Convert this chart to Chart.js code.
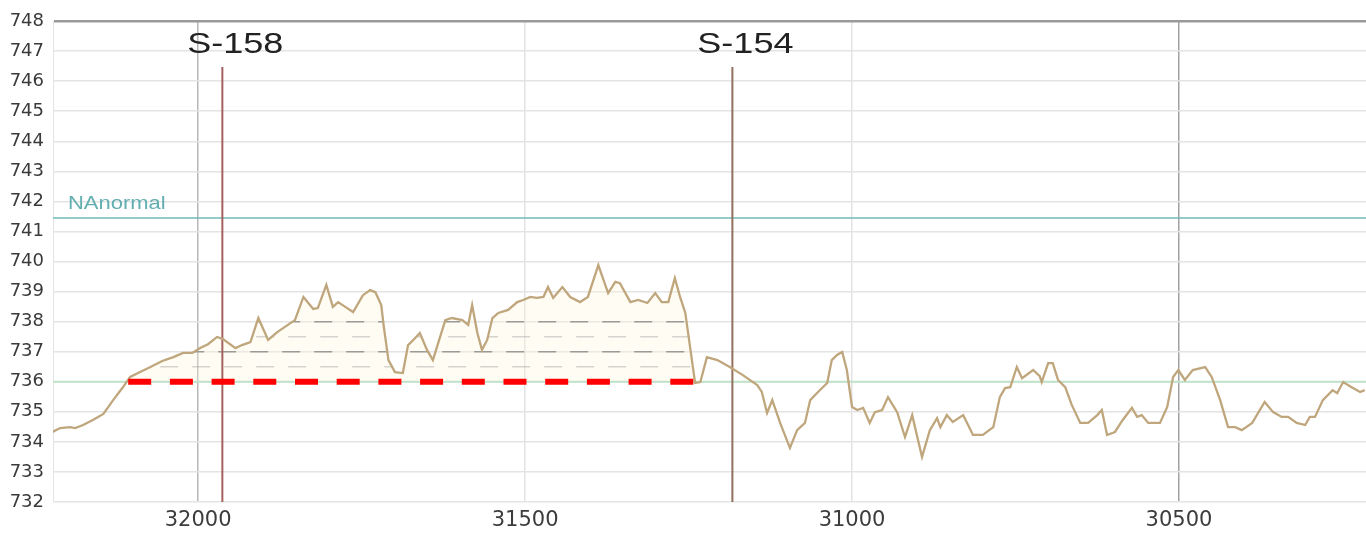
<!DOCTYPE html>
<html>
<head>
<meta charset="utf-8">
<script src="https://cdn.jsdelivr.net/npm/chart.js@4/dist/chart.umd.min.js"></script>
<style>
  html, body { margin: 0; padding: 0; background: #ffffff; }
  #wrap { width: 1366px; height: 538px; position: relative; }
</style>
</head>
<body>
<div id="wrap"><canvas id="c"></canvas></div>
<script>
// ---- data ----
const distance = [32223,32211,32196,32188,32176,32161,32145,32130,32116,32104,32092,32073,32055,32038,32023,32009,31997,31985,31971,31962,
  31943,31933,31920,31908,31893,31879,31859,31852,31839,31824,31817,31804,31794,31786,31775,31763,31748,31737,31729,31720,
  31716,31709,31699,31687,31679,31671,31661,31650,31641,31630,31622,31612,31596,31587,31581,31573,31566,31558,31550,31541,
  31526,31512,31503,31492,31482,31472,31465,31457,31443,31431,31416,31404,31388,31373,31362,31355,31339,31327,31313,31301,
  31291,31281,31271,31263,31255,31240,31232,31222,31206,31187,31167,31145,31138,31130,31122,31110,31095,31084,31072,31064,
  31052,31038,31031,31023,31015,31008,31000,30992,30983,30973,30965,30954,30945,30931,30919,30908,30893,30881,30870,30865,
  30855,30846,30830,30815,30800,30784,30774,30766,30758,30748,30740,30723,30713,30710,30700,30693,30685,30674,30664,30651,
  30639,30625,30618,30610,30598,30586,30572,30564,30557,30547,30529,30518,30509,30501,30491,30479,30460,30450,30437,30425,
  30414,30404,30388,30369,30356,30343,30333,30320,30307,30300,30292,30280,30265,30258,30249,30236,30223,30216];
const elevation = [734.33,734.46,734.49,734.46,734.56,734.73,734.93,735.39,735.79,736.16,736.29,736.49,736.69,736.82,736.96,736.96,737.12,737.25,737.49,737.42,
  737.12,737.22,737.32,738.12,737.39,737.65,737.95,738.05,738.82,738.42,738.45,739.22,738.49,738.65,738.49,738.32,738.88,739.05,738.98,738.55,
  737.82,736.72,736.32,736.29,737.22,737.39,737.62,737.06,736.72,737.49,738.05,738.12,738.05,737.89,738.55,737.62,737.06,737.39,738.12,738.29,
  738.39,738.65,738.72,738.82,738.79,738.82,739.15,738.79,739.15,738.82,738.65,738.82,739.88,738.95,739.32,739.28,738.65,738.72,738.62,738.95,
  738.65,738.65,739.45,738.82,738.29,735.96,735.99,736.82,736.72,736.49,736.22,735.89,735.66,734.96,735.39,734.63,733.80,734.39,734.63,735.39,
  735.66,735.96,736.72,736.89,736.99,736.39,735.16,735.06,735.13,734.63,734.99,735.06,735.49,734.99,734.16,734.89,733.50,734.39,734.79,734.49,
  734.89,734.66,734.89,734.23,734.23,734.49,735.49,735.79,735.82,736.49,736.12,736.39,736.19,735.99,736.62,736.62,736.06,735.82,735.23,734.63,
  734.63,734.89,735.06,734.23,734.33,734.73,735.13,734.83,734.89,734.63,734.63,735.16,736.16,736.39,736.06,736.39,736.49,736.16,735.39,734.49,
  734.49,734.39,734.63,735.33,734.99,734.83,734.83,734.63,734.56,734.83,734.83,735.39,735.72,735.62,735.99,735.82,735.66,735.72];

const xTicks = [32000, 31500, 31000, 30500];
const xMin = 30214, xMax = 32222;
const yMin = 732, yMax = 748;

const markerNames = ['S-158', 'S-154'];
const markerDist = [31963, 31183];
const markerTop = 746.47;

const normalLevel = 741.45;
const normalLabel = 'NAnormal';
const targetLevel = 736;
const targetStart = 32107, targetEnd = 31237;
const hatchLevels = [736.5, 737, 737.5, 738];

// ---- build datasets ----
const curve = distance.map((d, i) => ({ x: d, y: elevation[i] }));
const targetLine = [{ x: targetStart, y: targetLevel }, { x: targetEnd, y: targetLevel }];
const greenLine = [{ x: xMax, y: targetLevel }, { x: xMin, y: targetLevel }];
const normalLine = [{ x: xMax, y: normalLevel }, { x: xMin, y: normalLevel }];
const markerColors = ['#a4625f', '#93705e'];

const datasets = [
  { data: targetLine, borderColor: '#ff0000', borderWidth: 6, borderDash: [23, 18.7], pointRadius: 0, order: 0, borderCapStyle: 'butt' },
  { data: curve, borderColor: '#bfa67c', borderWidth: 2.3, pointRadius: 0, tension: 0, order: 1 },
  { data: normalLine, borderColor: '#6fb8b8', borderWidth: 1.5, pointRadius: 0, order: 3 },
  { data: greenLine, borderColor: '#bfe3c8', borderWidth: 2, pointRadius: 0, order: 3 }
];
markerDist.forEach((d, i) => {
  datasets.push({ data: [{ x: d, y: markerTop }, { x: d, y: yMin }], borderColor: markerColors[i], borderWidth: 2, pointRadius: 0, order: 2 });
});

// ---- plugins ----
const hatchPlugin = {
  id: 'hatch',
  beforeDatasetsDraw(chart) {
    const { ctx, chartArea, scales: { x, y } } = chart;
    ctx.save();
    ctx.beginPath();
    ctx.rect(chartArea.left, chartArea.top, chartArea.right - chartArea.left, chartArea.bottom - chartArea.top);
    ctx.clip();
    ctx.beginPath();
    ctx.moveTo(x.getPixelForValue(targetStart), y.getPixelForValue(targetLevel));
    for (let i = 0; i < distance.length; i++) {
      const d = distance[i];
      if (d <= targetStart && d >= targetEnd) {
        ctx.lineTo(x.getPixelForValue(d), y.getPixelForValue(elevation[i]));
      }
    }
    ctx.lineTo(x.getPixelForValue(targetEnd), y.getPixelForValue(targetLevel));
    ctx.closePath();
    ctx.fillStyle = 'rgba(255, 246, 215, 0.3)';
    ctx.fill();
    ctx.clip();
    hatchLevels.forEach((lv, i) => {
      const py = y.getPixelForValue(lv);
      ctx.beginPath();
      ctx.setLineDash([18, 14]);
      ctx.lineDashOffset = i % 2 ? 6 : 0;
      ctx.strokeStyle = (lv % 1 === 0) ? 'rgba(120,120,120,0.7)' : 'rgba(150,150,150,0.4)';
      ctx.lineWidth = 1.5;
      ctx.moveTo(x.getPixelForValue(targetStart), py);
      ctx.lineTo(x.getPixelForValue(targetEnd), py);
      ctx.stroke();
    });
    ctx.restore();
  },
  afterDatasetsDraw(chart) {
    const { ctx, scales: { x, y } } = chart;
    ctx.save();
    ctx.fillStyle = '#222222';
    ctx.textBaseline = 'middle';
    ctx.textAlign = 'center';
    markerNames.forEach((name, i) => {
      const px = x.getPixelForValue(markerDist[i]) + 13;
      ctx.save();
      ctx.translate(px, 45);
      ctx.scale(1.2, 1);
      ctx.font = '30px "Liberation Sans", Arial, sans-serif';
      ctx.fillText(name, 0, 0);
      ctx.restore();
    });
    ctx.save();
    ctx.fillStyle = '#62aeb0';
    ctx.textAlign = 'left';
    ctx.translate(chart.chartArea.left + 15, y.getPixelForValue(normalLevel) - 14);
    ctx.scale(1.22, 1);
    ctx.font = '18px "Liberation Sans", Arial, sans-serif';
    ctx.fillText(normalLabel, 0, 0);
    ctx.restore();
    ctx.restore();
  }
};

new Chart(document.getElementById('c'), {
  type: 'line',
  data: { datasets },
  options: {
    responsive: true,
    maintainAspectRatio: false,
    animation: false,
    layout: { padding: { top: 21, right: 0, left: 0, bottom: 0 } },
    plugins: { legend: { display: false }, tooltip: { enabled: false } },
    scales: {
      x: {
        type: 'linear',
        reverse: true,
        min: xMin,
        max: xMax,
        afterBuildTicks(scale) { scale.ticks = xTicks.map(v => ({ value: v })); },
        afterFit(scale) { scale.height = 36; },
        ticks: {
          callback: v => String(v),
          font: { family: '"DejaVu Sans"', size: 21 },
          color: '#3c3c3c',
          padding: 6,
          maxRotation: 0
        },
        grid: {
          drawTicks: false,
          lineWidth: 1.5,
          color: ctx => {
            const v = ctx.tick && ctx.tick.value;
            if (v === 32000) return '#b8b8b8';
            if (v === 30500) return '#a2a2a2';
            return '#e3e3e3';
          }
        },
        border: { display: false }
      },
      y: {
        type: 'linear',
        min: yMin,
        max: yMax,
        afterFit(scale) { scale.width = 53; },
        ticks: {
          stepSize: 1,
          callback: v => String(v),
          font: { family: '"DejaVu Sans"', size: 18 },
          color: '#3a3a3a',
          padding: 9
        },
        grid: {
          drawTicks: false,
          lineWidth: ctx => (ctx.tick && ctx.tick.value === yMax) ? 2.5 : 1.5,
          color: ctx => (ctx.tick && ctx.tick.value === yMax) ? '#9a9a9a' : '#e4e4e4'
        },
        border: { display: true, color: '#e4e4e4' }
      }
    }
  },
  plugins: [hatchPlugin]
});
</script>
</body>
</html>
